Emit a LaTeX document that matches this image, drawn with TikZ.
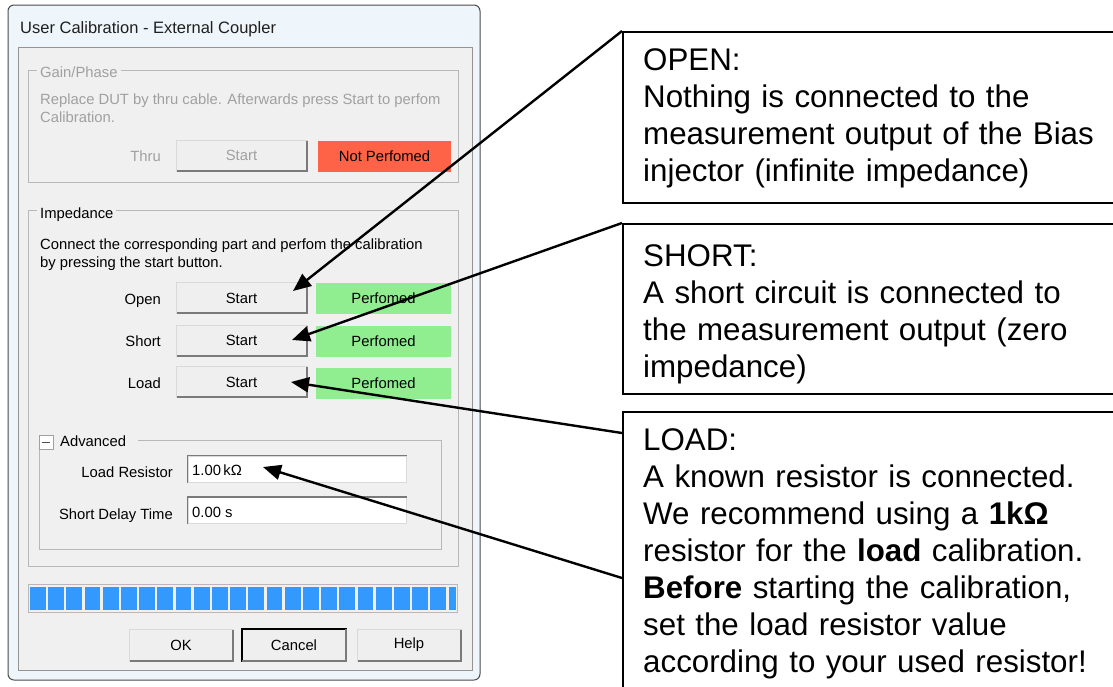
\documentclass[tikz,border=0pt]{standalone}
\usepackage{fontspec}
\setmainfont{Liberation Sans}
\usetikzlibrary{arrows.meta,calc}
\definecolor{dlgbg}{HTML}{F0F0F0}
\definecolor{framebg}{HTML}{EEF6FB}
\definecolor{frameline}{HTML}{4A4A4A}
\definecolor{grpline}{HTML}{B8B8B8}
\definecolor{distext}{HTML}{A0A0A0}
\definecolor{btnface}{HTML}{EFEFEF}
\definecolor{btnlight}{HTML}{D9D9D9}
\definecolor{btnshadow}{HTML}{7A7A7A}
\definecolor{notperf}{HTML}{FF6347}
\definecolor{perf}{HTML}{90EE90}
\definecolor{progblue}{HTML}{3399FF}
\begin{document}
\begin{tikzpicture}[x=1pt,y=-1pt,
  dlgfont/.style={font=\fontsize{14.8}{17}\selectfont},
  dtext/.style={dlgfont, inner sep=0pt, text=black},
  distxt/.style={dlgfont, inner sep=0pt, text=distext},
  grp/.style={draw=grpline, line width=1pt},
  grplabel/.style={dlgfont, fill=dlgbg, inner xsep=3pt, inner ysep=1pt, anchor=base west},
  btn/.style={dlgfont, fill=btnface, draw=btnlight, line width=1pt, minimum width=#1, minimum height=31pt, inner sep=0pt},
  shadowline/.style={draw=btnshadow, line width=2pt},
  status/.style={dlgfont, fill=#1, minimum width=135pt, minimum height=31pt, inner sep=0pt},
  tbox/.style={fill=white, draw=btnlight, line width=1pt, minimum width=218pt, minimum height=26pt, inner sep=0pt},
  calloutbox/.style={draw=black, line width=2pt, fill=white, anchor=north west, inner sep=0pt},
  callouttext/.style={font=\fontsize{31.3}{37}\selectfont, anchor=north west, inner sep=0pt, text width=470pt, align=left},
  ptr/.style={draw=black, line width=2.4pt, -{Triangle[length=18pt,width=15pt]}},
  prog/.style={fill=progblue}
]
\useasboundingbox (0,0) rectangle (1113,686);
\fill[white] (0,0) rectangle (1113,686);
\clip (0,0) rectangle (1113,686);

% ---------------- dialog frame ----------------
\draw[frameline, fill=framebg, line width=1pt, rounded corners=6pt] (8,5) rectangle (480,680);
\draw[draw=grpline!80!black, fill=dlgbg, line width=1pt] (18,47) rectangle (472,670);
\node[anchor=base west, inner sep=0pt, font=\fontsize{16.5}{20}\selectfont, text=black!88] (title) at (20,33) {User Calibration - External Coupler};

% ---------------- Gain/Phase group ----------------
\draw[grp] (28,70) rectangle (458,182);
\node[grplabel, text=distext] (gpLabel) at (37,77) {Gain/Phase};
\node[distxt, anchor=base west] (gpText1) at (40,104) {Replace DUT by thru cable. Afterwards press Start to perfom};
\node[distxt, anchor=base west] (gpText2) at (40,122) {Calibration.};
\node[distxt, anchor=base east] (thruLbl) at (161,161) {Thru};
\node[btn=131pt, text=distext] (thruStart) at (241.5,155.5) {Start};
\node[status=notperf, minimum width=133pt] (thruStatus) at (384.5,156) {Not Perfomed};

% ---------------- Impedance group ----------------
\draw[grp] (28,210) rectangle (458,566);
\node[grplabel] (impLabel) at (37,218) {Impedance};
\node[dtext, anchor=base west] (impText1) at (40,249) {Connect the corresponding part and perfom the calibration};
\node[dtext, anchor=base west] (impText2) at (40,267) {by pressing the start button.};

\node[dtext, anchor=base east] (openLbl) at (161,304) {Open};
\node[dtext, anchor=base east] (shortLbl) at (161,346) {Short};
\node[dtext, anchor=base east] (loadLbl) at (161,388) {Load};

\node[btn=131pt] (openStart) at (241.5,298) {Start};
\node[btn=131pt] (shortStart) at (241.5,340.5) {Start};
\node[btn=131pt] (loadStart) at (241.5,382) {Start};

\node[status=perf] (openStatus) at (383.5,298.5) {Perfomed};
\node[status=perf] (shortStatus) at (383.5,341) {Perfomed};
\node[status=perf] (loadStatus) at (383.5,383) {Perfomed};

% ---------------- Advanced group ----------------
\draw[grp] (138,440) -- (441,440) -- (441,549) -- (39,549) -- (39,450);
\node[draw=distext, fill=white, line width=0.8pt, minimum size=14pt, inner sep=0pt] (advToggle) at (46,442.5) {};
\draw[black!70, line width=1pt] ($(advToggle.west)+(3,0)$) -- ($(advToggle.east)+(-3,0)$);
\node[dtext, anchor=base west] (advLabel) at (60,446) {Advanced};

\node[dtext, anchor=base east] (resLbl) at (173,477) {Load Resistor};
\node[dtext, anchor=base east] (delayLbl) at (173,519) {Short Delay Time};
\node[tbox] (resBox) at (297,469) {};
\node[tbox] (delayBox) at (297,510.5) {};
\draw[btnshadow, line width=1.5pt] (resBox.south west) -- (resBox.north west) -- (resBox.north east);
\draw[btnshadow, line width=1.5pt] (delayBox.south west) -- (delayBox.north west) -- (delayBox.north east);
\node[dtext, anchor=base west] (resVal) at (192,475) {1.00\,kΩ};
\node[dtext, anchor=base west] (delayVal) at (192,517) {0.00 s};

% ---------------- progress bar ----------------
\draw[draw=grpline, fill=black!6, line width=1pt] (28,584) rectangle (457,612);
\foreach \i in {0,...,22} {
  \fill[prog] ({30+\i*18.2},586.5) rectangle ({30+\i*18.2+15.7},610);
}
\fill[prog] (448.6,586.5) rectangle (455.5,610);

% ---------------- bottom buttons ----------------
\node[btn=104pt, minimum height=32pt] (okBtn) at (181,645) {OK};
\node[btn=104pt, minimum height=32pt, draw=black, line width=1.5pt] (cancelBtn) at (294,645) {Cancel};
\node[btn=104pt, minimum height=32pt] (helpBtn) at (409,645) {Help};

\foreach \b in {thruStart,openStart,shortStart,loadStart,okBtn,cancelBtn,helpBtn} {
  \draw[shadowline] ($(\b.north east)+(-1,1)$) -- ($(\b.south east)+(-1,-1)$) -- ($(\b.south west)+(1,-1)$);
}

% ---------------- callouts ----------------
\node[calloutbox, minimum width=520pt, minimum height=171pt] (openBox) at (622,31) {};
\node[callouttext] (openTxt) at (643,42) {\rule{0pt}{28pt}OPEN:\\Nothing is connected to the\\measurement output of the Bias\\injector (infinite impedance)};

\node[calloutbox, minimum width=520pt, minimum height=170pt] (shortBox) at (622,223) {};
\node[callouttext] (shortTxt) at (643,238) {\rule{0pt}{28pt}SHORT:\\A short circuit is connected to\\the measurement output (zero\\impedance)};

\node[calloutbox, minimum width=520pt, minimum height=320pt] (loadBox) at (622,411) {};
\node[callouttext] (loadTxt) at (643,422) {\rule{0pt}{28pt}LOAD:\\A known resistor is connected.\\We recommend using a \textbf{1kΩ}\\resistor for the \textbf{load} calibration.\\\textbf{Before} starting the calibration,\\set the load resistor value\\according to your used resistor!};

% ---------------- pointers ----------------
\coordinate (openTip) at (293,291);
\coordinate (shortTip) at (292,340);
\coordinate (loadTip) at (291,382);
\coordinate (resTip) at (263,467);
\coordinate (loadFrom1) at (622,433);
\coordinate (loadFrom2) at (622,578);

\draw[ptr] (openBox.north west) -- (openTip);
\draw[ptr] (shortBox.north west) -- (shortTip);
\draw[ptr] (loadFrom1) -- (loadTip);
\draw[ptr] (loadFrom2) -- (resTip);
\end{tikzpicture}
\end{document}
